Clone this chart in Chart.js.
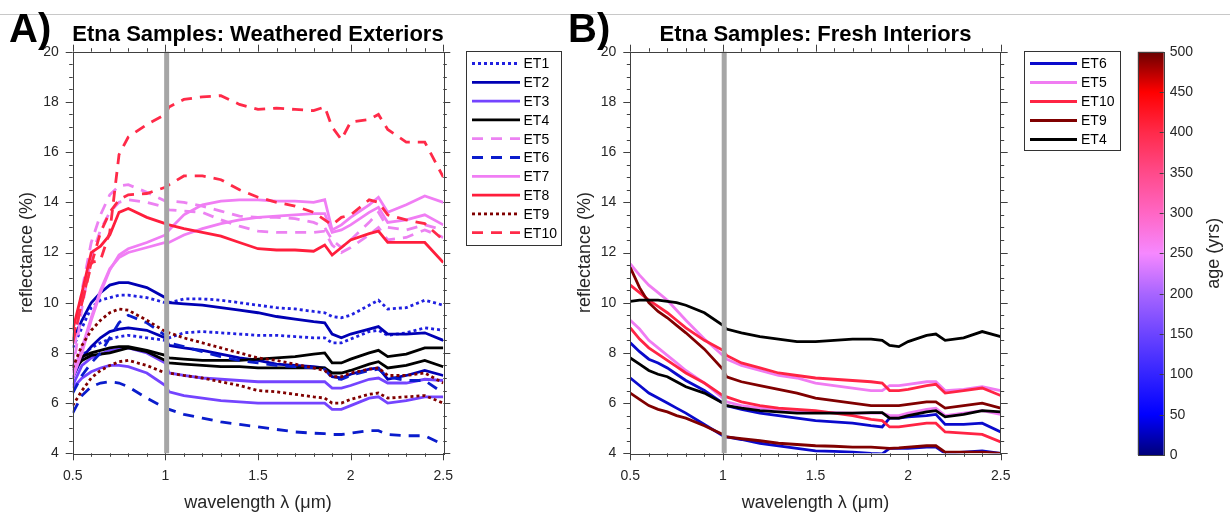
<!DOCTYPE html>
<html>
<head>
<meta charset="utf-8">
<script src="https://cdn.jsdelivr.net/npm/chart.js@4.4.0/dist/chart.umd.min.js"></script>
<style>
  body { margin:0; background:#fff; width:1230px; height:517px; overflow:hidden; position:relative; }
  .pane { position:absolute; top:0; }
  #topline { position:absolute; left:0; top:14px; width:1230px; height:0; border-top:1px solid #c8c8c8; }
</style>
</head>
<body>
<div id="topline"></div>
<div class="pane" style="left:0"><canvas id="chartA" width="565" height="517"></canvas></div>
<div class="pane" style="left:565px"><canvas id="chartB" width="560" height="517"></canvas></div>
<div class="pane" style="left:1125px"><canvas id="cbar" width="105" height="517"></canvas></div>
<script>
// wavelength grid (um), shared by every spectrum
const WL = [0.5, 0.55, 0.6, 0.65, 0.7, 0.75, 0.8, 0.9, 1.0, 1.02, 1.1, 1.2, 1.3, 1.4, 1.5, 1.6, 1.7, 1.8, 1.86, 1.9, 1.95, 2.0, 2.1, 2.15, 2.2, 2.3, 2.4, 2.5];

// A) weathered exteriors, reflectance (%)
const A_ET1a  = [8.2, 9.0, 9.8, 10.1, 10.2, 10.3, 10.3, 10.2, 10.0, 10.0, 10.15, 10.15, 10.1, 10.0, 9.9, 9.8, 9.75, 9.65, 9.6, 9.45, 9.4, 9.5, 9.9, 10.1, 9.75, 9.8, 10.1, 9.9];
const A_ET1b  = [7.4, 7.9, 8.2, 8.4, 8.55, 8.65, 8.7, 8.6, 8.5, 8.6, 8.8, 8.85, 8.8, 8.75, 8.7, 8.7, 8.65, 8.6, 8.6, 8.4, 8.4, 8.55, 8.85, 8.9, 8.7, 8.8, 9.0, 8.9];
const A_ET2a  = [8.5, 9.3, 10.0, 10.4, 10.7, 10.8, 10.8, 10.6, 10.2, 10.0, 9.95, 9.9, 9.8, 9.7, 9.6, 9.45, 9.35, 9.25, 9.2, 8.75, 8.6, 8.75, 8.95, 9.05, 8.75, 8.75, 8.8, 8.5];
const A_ET2b  = [7.0, 7.8, 8.25, 8.6, 8.85, 8.95, 9.0, 8.9, 8.6, 8.3, 8.2, 8.1, 7.95, 7.8, 7.7, 7.55, 7.5, 7.45, 7.4, 7.05, 7.0, 7.15, 7.35, 7.4, 6.95, 7.1, 7.3, 7.1];
const A_ET3a  = [6.7, 7.5, 7.8, 7.95, 8.1, 8.15, 8.2, 8.0, 7.6, 7.2, 7.1, 7.0, 6.95, 6.9, 6.85, 6.85, 6.85, 6.85, 6.85, 6.6, 6.6, 6.7, 6.95, 7.0, 6.8, 6.8, 6.95, 6.9];
const A_ET3b  = [6.6, 7.0, 7.25, 7.4, 7.5, 7.5, 7.45, 7.2, 6.7, 6.45, 6.3, 6.2, 6.1, 6.05, 6.0, 6.0, 6.0, 6.0, 6.0, 5.75, 5.75, 5.9, 6.2, 6.25, 6.0, 6.1, 6.25, 6.25];
const A_ET4a  = [7.5, 7.85, 8.0, 8.1, 8.2, 8.25, 8.25, 8.1, 7.9, 7.8, 7.75, 7.7, 7.7, 7.7, 7.75, 7.8, 7.85, 7.95, 8.0, 7.6, 7.6, 7.75, 8.0, 8.1, 7.85, 7.95, 8.2, 8.2];
const A_ET4b  = [7.3, 7.7, 7.9, 7.95, 8.0, 8.1, 8.2, 8.05, 7.7, 7.6, 7.55, 7.5, 7.45, 7.45, 7.4, 7.4, 7.4, 7.4, 7.4, 7.2, 7.2, 7.3, 7.55, 7.65, 7.4, 7.5, 7.7, 7.45];
const A_ET5a  = [7.6, 10.5, 12.4, 13.5, 14.3, 14.65, 14.7, 14.4, 14.05, 14.05, 14.0, 13.85, 13.65, 13.45, 13.4, 13.4, 13.35, 13.2, 13.0, 12.5, 12.2, 12.5, 13.2, 13.6, 13.0, 12.9, 13.1, 12.9];
const A_ET5b  = [7.2, 9.8, 11.8, 12.9, 13.6, 14.0, 14.1, 14.0, 13.8, 13.7, 13.65, 13.6, 13.3, 13.05, 12.85, 12.8, 12.8, 12.8, 12.85, 12.3, 12.0, 12.2, 12.7, 13.0, 12.5, 12.6, 12.9, 12.6];
const A_ET6a  = [6.4, 7.1, 7.6, 8.0, 8.6, 9.2, 9.5, 9.2, 8.7, 8.4, 8.25, 8.05, 7.85, 7.7, 7.6, 7.5, 7.45, 7.4, 7.35, 7.0, 6.95, 7.1, 7.3, 7.35, 7.05, 6.9, 6.9, 6.4];
const A_ET6b  = [5.6, 6.3, 6.65, 6.8, 6.85, 6.8, 6.65, 6.2, 5.8, 5.75, 5.55, 5.4, 5.25, 5.15, 5.05, 4.95, 4.85, 4.8, 4.78, 4.75, 4.75, 4.8, 4.9, 4.9, 4.75, 4.7, 4.7, 4.35];
const A_ET7a  = [7.0, 8.0, 9.3, 10.4, 11.3, 11.9, 12.15, 12.4, 12.7, 12.9, 13.5, 13.9, 14.05, 14.1, 14.1, 14.05, 14.05, 14.0, 14.1, 12.9, 13.1, 13.4, 13.9, 14.2, 13.6, 13.9, 14.25, 14.0];
const A_ET7b  = [7.2, 8.2, 9.4, 10.5, 11.35, 11.8, 12.0, 12.2, 12.4, 12.4, 12.7, 12.95, 13.15, 13.3, 13.4, 13.45, 13.5, 13.55, 13.55, 12.8, 12.9, 13.1, 13.6, 13.8, 13.2, 13.3, 13.5, 13.1];
const A_ET8   = [8.9, 10.4, 12.0, 12.25, 12.7, 13.6, 13.75, 13.4, 13.15, 13.1, 12.95, 12.8, 12.65, 12.4, 12.15, 12.1, 12.1, 12.05, 12.3, 11.9, 12.2, 12.5, 12.75, 12.85, 12.4, 12.4, 12.4, 11.6];
const A_ET9a  = [7.4, 8.3, 8.9, 9.3, 9.6, 9.75, 9.7, 9.3, 8.85, 8.8, 8.6, 8.4, 8.2, 8.0, 7.8, 7.7, 7.55, 7.4, 7.3, 7.05, 7.05, 7.2, 7.35, 7.4, 7.1, 7.1, 7.2, 6.8];
const A_ET9b  = [5.9, 6.5, 7.0, 7.3, 7.5, 7.65, 7.7, 7.5, 7.2, 7.2, 7.1, 7.0, 6.85, 6.7, 6.5, 6.45, 6.35, 6.25, 6.2, 6.0, 6.0, 6.15, 6.35, 6.4, 6.2, 6.25, 6.3, 6.0];
const A_ET10a = [8.4, 10.0, 11.6, 11.7, 12.8, 15.9, 16.6, 17.1, 17.5, 17.8, 18.1, 18.2, 18.25, 17.9, 17.7, 17.75, 17.7, 17.65, 17.8, 17.0, 16.5, 17.2, 17.3, 17.5, 16.9, 16.4, 16.4, 15.0];
const A_ET10b = [8.6, 10.0, 11.5, 12.8, 13.6, 14.1, 14.3, 14.35, 14.6, 14.7, 15.05, 15.05, 14.9, 14.5, 14.2, 14.0, 13.85, 13.6, 13.3, 13.1, 13.4, 13.5, 14.1, 14.0, 13.5, 13.3, 13.15, 12.5];

// B) fresh interiors, reflectance (%)
const B_ET6a  = [8.4, 8.05, 7.75, 7.6, 7.4, 7.15, 6.9, 6.5, 6.0, 5.9, 5.75, 5.6, 5.5, 5.4, 5.3, 5.25, 5.2, 5.1, 5.05, 5.4, 5.4, 5.45, 5.5, 5.55, 5.15, 5.15, 5.2, 4.85];
const B_ET6b  = [7.0, 6.7, 6.4, 6.2, 6.0, 5.8, 5.6, 5.15, 4.7, 4.65, 4.55, 4.4, 4.3, 4.2, 4.1, 4.08, 4.05, 4.0, 3.98, 4.2, 4.2, 4.2, 4.25, 4.25, 4.0, 4.05, 4.1, 4.0];
const B_ET5a  = [11.55, 11.1, 10.7, 10.4, 10.1, 9.7, 9.3, 8.55, 7.9, 7.75, 7.5, 7.3, 7.1, 7.0, 6.8, 6.7, 6.6, 6.5, 6.5, 6.7, 6.7, 6.75, 6.85, 6.85, 6.5, 6.55, 6.65, 6.5];
const B_ET5b  = [9.3, 8.95, 8.5, 8.2, 7.9, 7.6, 7.3, 6.8, 6.2, 6.05, 5.9, 5.8, 5.75, 5.7, 5.65, 5.62, 5.6, 5.6, 5.6, 5.5, 5.5, 5.6, 5.75, 5.8, 5.5, 5.6, 5.7, 5.55];
const B_ET10a = [10.7, 10.4, 10.1, 9.85, 9.6, 9.3, 9.0, 8.5, 8.1, 7.9, 7.6, 7.4, 7.2, 7.1, 7.0, 6.95, 6.9, 6.85, 6.8, 6.5, 6.5, 6.55, 6.7, 6.75, 6.4, 6.5, 6.6, 6.3];
const B_ET10b = [9.0, 8.55, 8.2, 7.95, 7.7, 7.45, 7.2, 6.8, 6.3, 6.25, 6.05, 5.9, 5.8, 5.75, 5.7, 5.6, 5.5, 5.35, 5.3, 5.05, 5.05, 5.1, 5.2, 5.2, 4.85, 4.8, 4.75, 4.45];
const B_ET9a  = [11.4, 10.6, 10.0, 9.65, 9.4, 9.1, 8.8, 8.15, 7.35, 7.05, 6.85, 6.7, 6.55, 6.4, 6.2, 6.1, 6.0, 5.9, 5.9, 5.9, 5.9, 5.95, 6.05, 6.05, 5.8, 5.9, 6.0, 5.8];
const B_ET9b  = [6.4, 6.15, 5.9, 5.75, 5.65, 5.5, 5.4, 5.1, 4.75, 4.65, 4.58, 4.5, 4.4, 4.35, 4.3, 4.28, 4.25, 4.25, 4.22, 4.2, 4.22, 4.25, 4.3, 4.3, 4.05, 4.05, 4.05, 4.0];
const B_ET4a  = [10.05, 10.1, 10.1, 10.1, 10.05, 10.0, 9.9, 9.6, 9.1, 8.95, 8.8, 8.65, 8.55, 8.45, 8.45, 8.5, 8.55, 8.55, 8.5, 8.3, 8.25, 8.45, 8.7, 8.75, 8.5, 8.6, 8.85, 8.65];
const B_ET4b  = [7.8, 7.55, 7.3, 7.15, 7.05, 6.85, 6.65, 6.4, 6.0, 5.9, 5.8, 5.7, 5.65, 5.6, 5.6, 5.6, 5.6, 5.62, 5.62, 5.4, 5.4, 5.5, 5.65, 5.7, 5.45, 5.55, 5.7, 5.65];

// axes, ticks and legends
const xTicks = [0.5, 1, 1.5, 2, 2.5];
const yTicks = [4, 6, 8, 10, 12, 14, 16, 18, 20];
const ageTicks = [0, 50, 100, 150, 200, 250, 300, 350, 400, 450, 500];
const detectorWl = 1.007;
const legendA = ['ET1', 'ET2', 'ET3', 'ET4', 'ET5', 'ET6', 'ET7', 'ET8', 'ET9', 'ET10'];
const legendB = ['ET6', 'ET5', 'ET10', 'ET9', 'ET4'];

// colormap of the age bar
const cmapAge = [0, 50, 100, 150, 200, 250, 300, 350, 400, 450, 500];
const cmapCol = ['#00007a', '#0000ff', '#3424ff', '#6c44ff', '#a865ff', '#f688ff', '#ff66c4', '#ff4a8a', '#ff2a4a', '#ff0000', '#6a0000'];

const styleA = {
  ET1:  { c: '#2020e0', d: [3, 3] },
  ET2:  { c: '#0000b4', d: [] },
  ET3:  { c: '#7444ff', d: [] },
  ET4:  { c: '#000000', d: [] },
  ET5:  { c: '#ec82f2', d: [11, 8] },
  ET6:  { c: '#0a1ccc', d: [11, 8] },
  ET7:  { c: '#f07ef4', d: [] },
  ET8:  { c: '#ff1e3c', d: [] },
  ET9:  { c: '#800000', d: [3, 3] },
  ET10: { c: '#ff2a48', d: [11, 8] }
};
const styleB = {
  ET6:  { c: '#0a0acc', d: [] },
  ET5:  { c: '#f07cf2', d: [] },
  ET10: { c: '#ff2444', d: [] },
  ET9:  { c: '#800000', d: [] },
  ET4:  { c: '#000000', d: [] }
};

const seriesA = [
  ['ET10', A_ET10a], ['ET10', A_ET10b], ['ET9', A_ET9a], ['ET9', A_ET9b], ['ET8', A_ET8],
  ['ET7', A_ET7a], ['ET7', A_ET7b], ['ET6', A_ET6a], ['ET6', A_ET6b], ['ET5', A_ET5a], ['ET5', A_ET5b],
  ['ET4', A_ET4a], ['ET4', A_ET4b], ['ET3', A_ET3a], ['ET3', A_ET3b], ['ET2', A_ET2a], ['ET2', A_ET2b],
  ['ET1', A_ET1a], ['ET1', A_ET1b]
];
const seriesB = [
  ['ET4', B_ET4a], ['ET4', B_ET4b], ['ET9', B_ET9a], ['ET9', B_ET9b], ['ET10', B_ET10a], ['ET10', B_ET10b],
  ['ET5', B_ET5a], ['ET5', B_ET5b], ['ET6', B_ET6a], ['ET6', B_ET6b]
];

const FONT = "'Liberation Sans', Arial, Helvetica, sans-serif";
Chart.defaults.font.family = FONT;
Chart.defaults.color = '#262626';

function makeSets(series, styles) {
  return series.map(([name, vals]) => ({
    label: name,
    data: vals.map((v, i) => ({ x: WL[i], y: v })),
    borderColor: styles[name].c,
    borderDash: styles[name].d,
    borderWidth: 2.8,
    borderCapStyle: 'butt',
    pointRadius: 0,
    tension: 0,
    fill: false
  }));
}

// frame, outward ticks, detector line, title, legend
const framePlugin = {
  id: 'frame',
  afterDatasetsDraw(chart, args, o) {
    const { ctx, chartArea: a, scales: { x } } = chart;
    const gx = x.getPixelForValue(detectorWl);
    ctx.save();
    ctx.strokeStyle = '#a6a6a6';
    ctx.lineWidth = 5;
    ctx.beginPath(); ctx.moveTo(gx, a.top); ctx.lineTo(gx, a.bottom); ctx.stroke();
    ctx.restore();
  },
  afterDraw(chart, args, o) {
    const { ctx, chartArea: a, scales: { x, y } } = chart;
    ctx.save();
    ctx.strokeStyle = '#404040';
    ctx.lineWidth = 1;
    ctx.strokeRect(Math.round(a.left) + 0.5, Math.round(a.top) + 0.5, Math.round(a.right - a.left), Math.round(a.bottom - a.top));
    ctx.beginPath();
    for (let v = 0.5; v <= 2.5001; v += 0.1) {
      const px = Math.round(x.getPixelForValue(v)) + 0.5;
      const major = Math.abs(v * 2 - Math.round(v * 2)) < 1e-6;
      const len = major ? 7 : 3.5;
      ctx.moveTo(px, a.bottom); ctx.lineTo(px, a.bottom + len);
      ctx.moveTo(px, a.top); ctx.lineTo(px, a.top - len);
    }
    for (let v = 4; v <= 20.001; v += 0.5) {
      const py = Math.round(y.getPixelForValue(v)) + 0.5;
      const len = Math.abs(v / 2 - Math.round(v / 2)) < 1e-6 ? 7 : 3.5;
      ctx.moveTo(a.left, py); ctx.lineTo(a.left - len, py);
      ctx.moveTo(a.right, py); ctx.lineTo(a.right + len, py);
    }
    ctx.stroke();

    // panel letter and title
    ctx.fillStyle = '#000';
    ctx.textBaseline = 'alphabetic';
    ctx.textAlign = 'left';
    ctx.font = 'bold 40px ' + FONT;
    ctx.fillText(o.letter, o.letterX, 42);
    ctx.textAlign = 'center';
    ctx.font = 'bold 22px ' + FONT;
    ctx.fillText(o.title, (a.left + a.right) / 2, 41);

    // legend
    const L = o.legend;
    ctx.fillStyle = '#fff';
    ctx.fillRect(L.x, L.y, L.w, L.h);
    ctx.strokeStyle = '#333';
    ctx.strokeRect(L.x + 0.5, L.y + 0.5, L.w, L.h);
    ctx.font = '14px ' + FONT;
    ctx.textAlign = 'left';
    ctx.textBaseline = 'middle';
    L.names.forEach((n, i) => {
      const yy = L.y0 + i * L.dy;
      const s = o.styles[n];
      ctx.strokeStyle = s.c;
      ctx.lineWidth = 2.8;
      ctx.setLineDash(s.d);
      ctx.beginPath(); ctx.moveTo(L.lx0, yy); ctx.lineTo(L.lx1, yy); ctx.stroke();
      ctx.setLineDash([]);
      ctx.fillStyle = '#000';
      ctx.fillText(n, L.tx, yy + 1);
    });
    ctx.restore();
  }
};

function panel(id, sets, padRight, yWidth, opts) {
  return new Chart(document.getElementById(id), {
    type: 'line',
    data: { datasets: sets },
    options: {
      responsive: false,
      animation: false,
      layout: { padding: { left: 0, top: 51.7, right: padRight, bottom: 0 } },
      plugins: { legend: { display: false }, tooltip: { enabled: false }, frame: opts },
      scales: {
        x: {
          type: 'linear', min: 0.5, max: 2.5,
          afterBuildTicks: s => { s.ticks = xTicks.map(v => ({ value: v })); },
          afterFit: s => { s.height = 517 - 453.3; },
          ticks: { font: { size: 14 }, color: '#262626', padding: 14, maxRotation: 0, autoSkip: false, callback: v => String(v) },
          grid: { display: false, drawTicks: false },
          border: { display: false },
          title: { display: true, text: 'wavelength \u03bb (\u03bcm)', font: { size: 18 }, color: '#262626', padding: { top: 0, bottom: 3 } }
        },
        y: {
          type: 'linear', min: 4, max: 20,
          afterBuildTicks: s => { s.ticks = yTicks.map(v => ({ value: v })); },
          afterFit: s => { s.width = yWidth; },
          ticks: { font: { size: 14 }, color: '#262626', padding: 14, callback: v => String(v) },
          grid: { display: false, drawTicks: false },
          border: { display: false },
          title: { display: true, text: 'reflectance (%)', font: { size: 18 }, color: '#262626', padding: { top: opts.yTitlePad, bottom: 0 } }
        }
      }
    },
    plugins: [framePlugin]
  });
}

panel('chartA', makeSets(seriesA, styleA), 565 - 443.3, 72.7, {
  letter: 'A)', letterX: 9, title: 'Etna Samples: Weathered Exteriors', styles: styleA, yTitlePad: 16,
  legend: { names: legendA, x: 466, y: 51, w: 95, h: 194, y0: 63.5, dy: 18.8, lx0: 472, lx1: 520, tx: 523.5 }
});
panel('chartB', makeSets(seriesB, styleB), 1125 - 1000.7, 65.3, {
  letter: 'B)', letterX: 3, title: 'Etna Samples: Fresh Interiors', styles: styleB, yTitlePad: 9,
  legend: { names: legendB, x: 459, y: 51, w: 96, h: 99, y0: 63.5, dy: 19, lx0: 465, lx1: 512, tx: 516 }
});

// age colorbar
function ageGradient(chart) {
  const a = chart.chartArea;
  if (!a) return '#888';
  const y = chart.scales.y;
  const g = chart.ctx.createLinearGradient(0, a.bottom, 0, a.top);
  cmapAge.forEach((v, i) => g.addColorStop((a.bottom - y.getPixelForValue(v)) / (a.bottom - a.top), cmapCol[i]));
  return g;
}
const cbarPlugin = {
  id: 'cbarFrame',
  afterDraw(chart) {
    const { ctx, chartArea: a, scales: { y } } = chart;
    ctx.save();
    ctx.strokeStyle = '#404040';
    ctx.lineWidth = 1;
    ctx.strokeRect(Math.round(a.left) + 0.5, Math.round(a.top) + 0.5, Math.round(a.right - a.left), Math.round(a.bottom - a.top));
    ctx.beginPath();
    ageTicks.forEach(v => {
      const py = Math.round(y.getPixelForValue(v)) + 0.5;
      ctx.moveTo(a.right, py); ctx.lineTo(a.right - 4, py);
    });
    ctx.stroke();
    ctx.translate(89, (a.top + a.bottom) / 2);
    ctx.rotate(-Math.PI / 2);
    ctx.fillStyle = '#262626';
    ctx.font = '18px ' + FONT;
    ctx.textAlign = 'center';
    ctx.textBaseline = 'middle';
    ctx.fillText('age (yrs)', 0, 0);
    ctx.restore();
  }
};
new Chart(document.getElementById('cbar'), {
  type: 'bar',
  data: {
    labels: ['age'],
    datasets: [{
      data: [[cmapAge[0], cmapAge[cmapAge.length - 1]]],
      backgroundColor: c => ageGradient(c.chart),
      borderWidth: 0,
      barPercentage: 1,
      categoryPercentage: 1
    }]
  },
  options: {
    responsive: false,
    animation: false,
    layout: { padding: { left: 12.7, top: 51.7, right: 0, bottom: 62 } },
    plugins: { legend: { display: false }, tooltip: { enabled: false } },
    scales: {
      x: { display: false },
      y: {
        position: 'right', min: 0, max: 500,
        afterBuildTicks: s => { s.ticks = ageTicks.map(v => ({ value: v })); },
        afterFit: s => { s.width = 105 - 12.7 - 26; },
        ticks: { font: { size: 14 }, color: '#262626', padding: 6 },
        grid: { display: false, drawTicks: false },
        border: { display: false }
      }
    }
  },
  plugins: [cbarPlugin]
});
</script>
</body>
</html>
